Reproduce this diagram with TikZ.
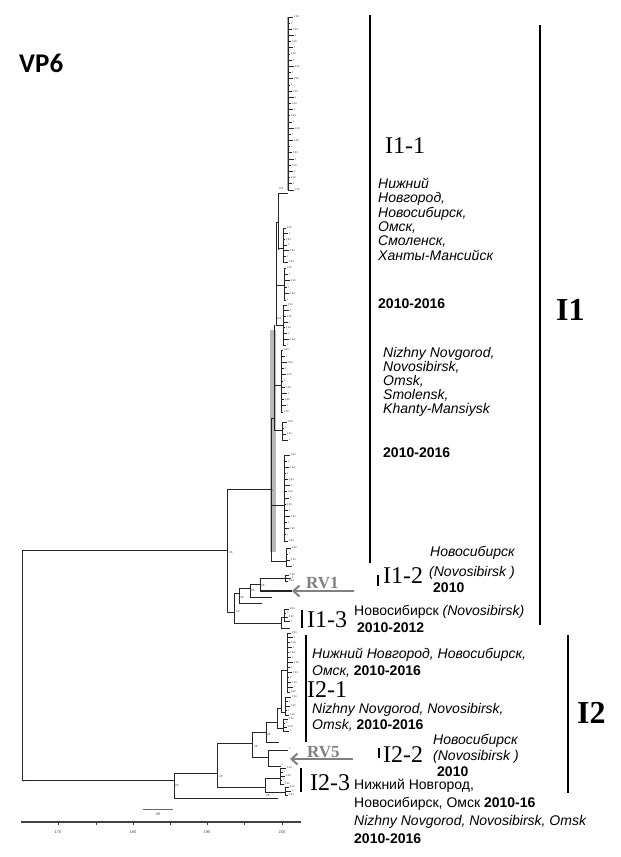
\documentclass[tikz,border=0pt]{standalone}
\usepackage{fontspec}
\setmainfont{Liberation Serif}
\newfontfamily\sansf{Liberation Sans}
\newfontfamily\vpfont{Carlito}
\usetikzlibrary{arrows.meta}
\definecolor{rvgray}{HTML}{808080}
\newcommand\leafclade[5]{%
  \draw[tree] (#1,#2) -- (#1,#3);
  \foreach \i in {0,...,#4}{%
    \pgfmathsetmacro\yy{#2+(#3-#2)*\i/#4}%
    \pgfmathsetmacro\ll{2+mod(\i*7+#4,5)}%
    \draw[tree] (#1,\yy) -- ++(\ll,0);
    \ifodd\i\relax
      \node[tip] (tip-#5-\i) at (#1+\ll+0.6,\yy) {1};
    \else
      \node[tip] (tip-#5-\i) at (#1+\ll+0.6,\yy) {0.99};
    \fi
  }%
}
\begin{document}
\begin{tikzpicture}[x=1pt,y=-1pt,
  tree/.style={line width=0.9pt,draw=black!85},
  tip/.style={font=\sansf\fontsize{2.6}{3}\selectfont,text=black!70,anchor=west,inner sep=0pt},
  nl/.style={font=\sansf\fontsize{3}{3}\selectfont,text=black!70,anchor=west,inner sep=0pt},
  bar/.style={line width=2pt,draw=black},
  tick/.style={line width=1.6pt,draw=black},
  clab/.style={font=\fontsize{24}{24}\selectfont,anchor=base west,inner sep=0pt},
  biglab/.style={font=\bfseries\fontsize{32}{32}\selectfont,anchor=base west,inner sep=0pt},
  ital/.style={font=\sansf\itshape\fontsize{14}{14}\selectfont,anchor=base west,inner sep=0pt},
  upr/.style={font=\sansf\fontsize{14}{14}\selectfont,anchor=base west,inner sep=0pt},
  yr/.style={font=\sansf\bfseries\fontsize{14}{14}\selectfont,anchor=base west,inner sep=0pt},
  rv/.style={font=\bfseries\fontsize{17}{17}\selectfont,text=rvgray,anchor=base west,inner sep=0pt},
  rvarrow/.style={line width=2.4pt,draw=rvgray,-{Straight Barb[length=6pt,width=11pt,line width=2pt]}},
  axislab/.style={font=\sansf\fontsize{4}{4}\selectfont,text=black!70,anchor=north,inner sep=0pt}
]
\useasboundingbox (0,0) rectangle (621,857);
\fill[white] (0,0) rectangle (621,857);

% title
\node[font=\vpfont\bfseries\fontsize{27}{27}\selectfont,anchor=base west,inner sep=0pt] (title) at (19,72) {VP6};

% ---------- tree ----------
\fill[gray!55] (269.5,330) rectangle (275.5,552);
% root
\draw[tree] (22,550) -- (22,780);
\draw[tree] (22,550) -- (227,550);
\draw[tree] (22,780) -- (174,780);
\node[nl] (n-root) at (23,781) {1};
% I1 clade
\draw[tree] (227,489) -- (227,612);
\node[nl] (n-i1) at (229,552) {28};
\draw[tree] (227,489) -- (271,489);
\draw[tree] (227,612) -- (234,612);
\draw[tree] (234,593) -- (234,623);
\node[nl] (n-52) at (236,611) {52};
\draw[tree] (234,593) -- (239,593);
\draw[tree] (234,623) -- (281,623);
\draw[tree] (239,588) -- (239,603);
\node[nl] (n-39) at (240,597) {39};
\draw[tree] (239,603) -- (262,603);
\draw[tree] (239,588) -- (250,588);
\draw[tree] (250,584) -- (250,597);
\node[nl] (n-34) at (251,590) {34};
\draw[tree] (250,597) -- (272,597);
\draw[tree] (250,584) -- (260,584);
\draw[tree] (260,578) -- (260,591);
\node[nl] (n-38) at (261,585) {28};
\draw[tree] (260,578) -- (285,578);
\draw[tree,line width=1.6pt] (260,591) -- (292,591);
\leafclade{285}{575}{581}{2}{i12}
% I1-3 cluster
\draw[tree] (281,617) -- (281,628);
\draw[tree] (281,628) -- (290,628);
\draw[tree] (281,617) -- (284,617);
\leafclade{284}{609}{621}{3}{i13}
% I1-1 ladder
\draw[tree] (271,418) -- (271,561);
\draw[tree] (271,561) -- (286,561);
\draw[tree] (271,505) -- (284,505);
\draw[tree] (271,418) -- (274,418);
\node[nl] (n-n1) at (272,490) {1};
\leafclade{286}{548}{566}{3}{H}
\leafclade{284}{455}{541}{14}{G}
\draw[tree] (274,325) -- (274,430);
\draw[tree] (274,430) -- (282,430);
\draw[tree] (274,385) -- (281,385);
\leafclade{282}{422}{440}{3}{F}
\leafclade{281}{350}{412}{10}{E}
\draw[tree] (276,222) -- (276,325);
\draw[tree] (276,325) -- (283,325);
\draw[tree] (276,285) -- (284,285);
\draw[tree] (276,222) -- (278,222);
\node[nl] (n-n3) at (277,318) {0.9};
\leafclade{283}{305}{345}{7}{D}
\leafclade{284}{268}{300}{5}{C}
\draw[tree] (278,193) -- (278,250);
\draw[tree] (278,193) -- (288,193);
\draw[tree] (278,248) -- (283,248);
\node[nl] (n-n4) at (279,188) {0.8};
\leafclade{283}{228}{262}{6}{B}
\draw[gray!70,line width=1.8pt] (288,17) -- (288,190);
\leafclade{288}{17}{190}{28}{A}
% I2 clade
\draw[tree] (174,773) -- (174,798);
\draw[tree] (174,798) -- (278,798);
\draw[tree] (174,773) -- (217,773);
\node[nl] (n-i2) at (175,785) {28};
\draw[tree] (217,743) -- (217,787);
\node[nl] (n-217) at (219,776) {28};
\draw[tree] (217,743) -- (252,743);
\draw[tree] (217,787) -- (265,787);
\draw[tree] (252,732) -- (252,757);
\node[nl] (n-252) at (254,746) {28};
\draw[tree] (252,757) -- (268,757);
\draw[tree] (252,732) -- (266,732);
\draw[tree] (268,750) -- (268,766);
\draw[tree] (268,750) -- (288,750);
\draw[tree] (268,766) -- (281,766);
\node[tip] (tip-rv5a) at (289,749) {1};
\node[tip] (tip-rv5b) at (282,765) {1};
\draw[tree] (266,722) -- (266,742);
\node[nl] (n-266) at (267,734) {28};
\draw[tree] (266,742) -- (279,742);
\draw[tree] (266,722) -- (277,722);
\draw[tree] (277,708) -- (277,728);
\draw[tree] (277,728) -- (283,728);
\draw[tree] (277,708) -- (281,708);
\leafclade{283}{719}{731}{3}{K1}
\draw[tree] (281,670) -- (281,712);
\draw[tree] (281,712) -- (285,712);
\draw[tree] (281,670) -- (287,670);
\leafclade{285}{697}{715}{4}{K2}
\leafclade{287}{633}{692}{12}{K3}
\draw[tree] (265,778) -- (265,792);
\node[nl] (n-265) at (266,795) {28};
\draw[tree] (265,778) -- (280,778);
\draw[tree] (265,792) -- (285,792);
\leafclade{280}{768}{784}{4}{L1}
\leafclade{285}{787}{795}{2}{L2}

% scale bar and axis
\draw[line width=1pt,draw=black!60] (143,809) -- (173,809);
\node[axislab] (sc) at (158,812) {40};
\draw[line width=1.3pt,draw=black!75] (21,822) -- (301,822);
\foreach \xx/\lab in {58/170,133/180,207/190,282/200}{
  \draw[line width=0.6pt,draw=black!75] (\xx,822) -- (\xx,825);
  \node[axislab] (ax-\lab) at (\xx,830) {\lab};
}
\foreach \xx in {96,170,244}{
  \draw[line width=0.6pt,draw=black!75] (\xx,822) -- (\xx,824.5);
}

% ---------- clade bars ----------
\draw[bar] (370,15) -- (370,563);
\draw[bar] (540,25) -- (540,625);
\draw[tick] (378,575) -- (378,586);
\draw[bar] (302,610) -- (302,628);
\draw[bar] (568,635) -- (568,793);
\draw[bar] (306,635) -- (306,742);
\draw[tick] (379,748) -- (379,758);
\draw[bar] (301,768) -- (301,792);

% ---------- labels ----------
\node[biglab] (I1) at (556,320) {I1};
\node[biglab] (I2) at (577,723) {I2};

\node[clab] (I11) at (385,153) {I1-1};
\node[ital] (r1) at (378,188) {Нижний};
\node[ital] (r2) at (378,202.5) {Новгород,};
\node[ital] (r3) at (378,217) {Новосибирск,};
\node[ital] (r4) at (378,231) {Омск,};
\node[ital] (r5) at (378,245.5) {Смоленск,};
\node[ital] (r6) at (378,260) {Ханты-Мансийск};
\node[yr] (y1) at (378,308) {2010-2016};
\node[ital] (e1) at (383,357) {Nizhny Novgorod,};
\node[ital] (e2) at (383,371) {Novosibirsk,};
\node[ital] (e3) at (383,385) {Omsk,};
\node[ital] (e4) at (383,399) {Smolensk,};
\node[ital] (e5) at (383,413) {Khanty-Mansiysk};
\node[yr] (y2) at (383,457) {2010-2016};

\node[clab] (I12) at (383,583) {I1-2};
\node[ital] (a1) at (430,556) {Новосибирск};
\node[ital] (a2) at (429,576) {(Novosibirsk )};
\node[yr] (a3) at (433,592) {2010};

\node[rv] (RV1) at (306,588) {RV1};
\coordinate (rv1s) at (354,591);
\coordinate (rv1e) at (292,591);
\draw[rvarrow] (rv1s) -- (rv1e);

\node[clab] (I13) at (307,627) {I1-3};
\node[upr] (b1) at (354,615) {Новосибирск \textit{(Novosibirsk)}};
\node[yr] (b2) at (357,632) {2010-2012};

\node[ital] (c1) at (312,658) {Нижний Новгород, Новосибирск,};
\node[ital] (c2) at (312,675) {Омск, \textbf{\upshape 2010-2016}};
\node[clab] (I21) at (307,697) {I2-1};
\node[ital] (c3) at (312,713) {Nizhny Novgorod, Novosibirsk,};
\node[ital] (c4) at (312,729) {Omsk, \textbf{\upshape 2010-2016}};

\node[rv] (RV5) at (307,757) {RV5};
\coordinate (rv5s) at (353,759);
\coordinate (rv5e) at (290,759);
\draw[rvarrow] (rv5s) -- (rv5e);

\node[clab] (I22) at (383,762) {I2-2};
\node[ital] (d1) at (433,744) {Новосибирск};
\node[ital] (d2) at (433,760.5) {(Novosibirsk )};
\node[yr] (d3) at (437,776) {2010};

\node[clab] (I23) at (310,790) {I2-3};
\node[upr] (f1) at (354,789.5) {Нижний Новгород,};
\node[upr] (f2) at (354,807.5) {Новосибирск, Омск \textbf{2010-16}};
\node[ital] (f3) at (354,825) {Nizhny Novgorod, Novosibirsk, Omsk};
\node[yr] (f4) at (354,843) {2010-2016};
\end{tikzpicture}
\end{document}
